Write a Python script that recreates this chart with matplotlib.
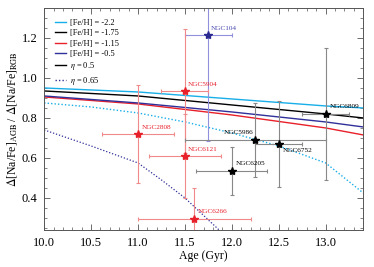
import numpy as np
import matplotlib
matplotlib.use('Agg')
import matplotlib.pyplot as plt
from matplotlib.ticker import MultipleLocator
from matplotlib.lines import Line2D

plt.rcParams['font.family'] = ['Liberation Serif', 'DejaVu Serif']
plt.rcParams['mathtext.fontset'] = 'stix'

# model curves (eta = 0.5, solid)
age_grid = [10.0, 11.0, 12.0, 13.0, 13.4]
feh_m22 = [0.95, 0.93, 0.895, 0.86, 0.85]
feh_m175 = [0.935, 0.91, 0.865, 0.82, 0.80]
feh_m115 = [0.905, 0.87, 0.815, 0.75, 0.715]
feh_m05 = [0.91, 0.875, 0.83, 0.78, 0.755]

# eta = 0.65 (dotted)
age_d1 = [10.0, 10.5, 11.0, 11.5, 12.0, 12.5, 13.0, 13.2, 13.4]
feh_m22_d = [0.875, 0.855, 0.825, 0.78, 0.725, 0.66, 0.575, 0.50, 0.425]
age_d2 = [10.0, 10.5, 11.0, 11.25, 11.5, 11.75, 12.0]
feh_m05_d = [0.74, 0.66, 0.575, 0.49, 0.40, 0.29, 0.18]

# clusters
names = ['NGC104', 'NGC5904', 'NGC2808', 'NGC6121', 'NGC6266',
         'NGC6205', 'NGC5986', 'NGC6752', 'NGC6809']
ages = [11.75, 11.5, 11.0, 11.5, 11.6, 12.0, 12.25, 12.5, 13.0]
age_err = [0.25, 0.25, 0.38, 0.38, 0.6, 0.38, 0.75, 0.25, 0.25]
ratio = [1.215, 0.935, 0.72, 0.61, 0.295, 0.535, 0.69, 0.67, 0.82]
ratio_err = [0.53, 0.31, 0.245, 0.21, 0.155, 0.12, 0.185, 0.215, 0.33]
groups = ['blue', 'red', 'red', 'red', 'red', 'black', 'black', 'black', 'black']
label_x = [11.78, 11.53, 11.04, 11.53, 11.64, 12.04, 11.91, 12.54, 13.04]
label_y = [1.245, 0.965, 0.75, 0.64, 0.33, 0.57, 0.725, 0.635, 0.855]

c_cyan = '#18aee8'
c_red = '#e8202a'
c_blue = '#30309a'
styles = {'red': ('#f08a8a', '#e8202a', '#e8202a'),
          'blue': ('#9090dd', '#2a2a90', '#4848b0'),
          'black': ('#888888', 'black', 'black')}

fig = plt.figure(figsize=(3.74, 2.67), dpi=100)
ax = fig.add_axes([0.118, 0.139, 0.853, 0.831])

ax.plot(age_grid, feh_m22, color=c_cyan, lw=1.0)
ax.plot(age_grid, feh_m175, color='black', lw=1.0)
ax.plot(age_grid, feh_m115, color=c_red, lw=1.0)
ax.plot(age_grid, feh_m05, color=c_blue, lw=1.0)
ax.plot(age_d1, feh_m22_d, color=c_cyan, lw=1.0, ls=(0, (1, 1.5)))
ax.plot(age_d2, feh_m05_d, color=c_blue, lw=0.9, ls=(0, (1, 1.5)))

for i in range(len(names)):
    ecol, mcol, tcol = styles[groups[i]]
    ax.errorbar(ages[i], ratio[i], xerr=age_err[i], yerr=ratio_err[i],
                fmt='none', ecolor=ecol, elinewidth=0.8, capsize=1.5, capthick=0.8)
    ax.plot(ages[i], ratio[i], marker='*', color=mcol, ms=6, ls='none', zorder=5)
    ax.text(label_x[i], label_y[i], names[i], color=tcol, fontsize=5.2,
            ha='left', va='center')

ax.set_xlim(10.0, 13.4)
ax.set_ylim(0.24, 1.35)
ax.xaxis.set_major_locator(MultipleLocator(0.5))
ax.xaxis.set_minor_locator(MultipleLocator(0.1))
ax.yaxis.set_major_locator(MultipleLocator(0.2))
ax.yaxis.set_minor_locator(MultipleLocator(0.05))
ax.xaxis.set_major_formatter(matplotlib.ticker.FormatStrFormatter('%.1f'))
ax.yaxis.set_major_formatter(matplotlib.ticker.FormatStrFormatter('%.1f'))
ax.tick_params(which='both', direction='in', top=True, right=True,
               color='#555555', labelsize=9)
ax.tick_params(which='major', length=4, width=0.6, pad=5)
ax.tick_params(which='minor', length=2, width=0.5)
for s in ax.spines.values():
    s.set_color('#555555')
    s.set_linewidth(0.7)

ax.set_xlabel('Age (Gyr)', fontsize=8.5, labelpad=1)
ax.set_ylabel(r'$\Delta$[Na/Fe]$_{\rm AGB}$ / $\Delta$[Na/Fe]$_{\rm RGB}$',
              fontsize=8.5, labelpad=2)

handles = [Line2D([], [], color=c_cyan, lw=1.0),
           Line2D([], [], color='black', lw=1.0),
           Line2D([], [], color=c_red, lw=1.0),
           Line2D([], [], color=c_blue, lw=1.0),
           Line2D([], [], color='black', lw=1.0),
           Line2D([], [], color=c_blue, lw=1.0, ls=(0, (1, 1.5)))]
labels = ['[Fe/H] = -2.2', '[Fe/H] = -1.75', '[Fe/H] = -1.15', '[Fe/H] = -0.5',
          r'$\eta$ = 0.5', r'$\eta$ = 0.65']
ax.legend(handles, labels, loc='upper left', frameon=False, fontsize=6,
          handlelength=1.3, handletextpad=0.5, labelspacing=0.28,
          borderaxespad=0.5, bbox_to_anchor=(0.01, 0.985))

fig.savefig('out.png', dpi=100)
